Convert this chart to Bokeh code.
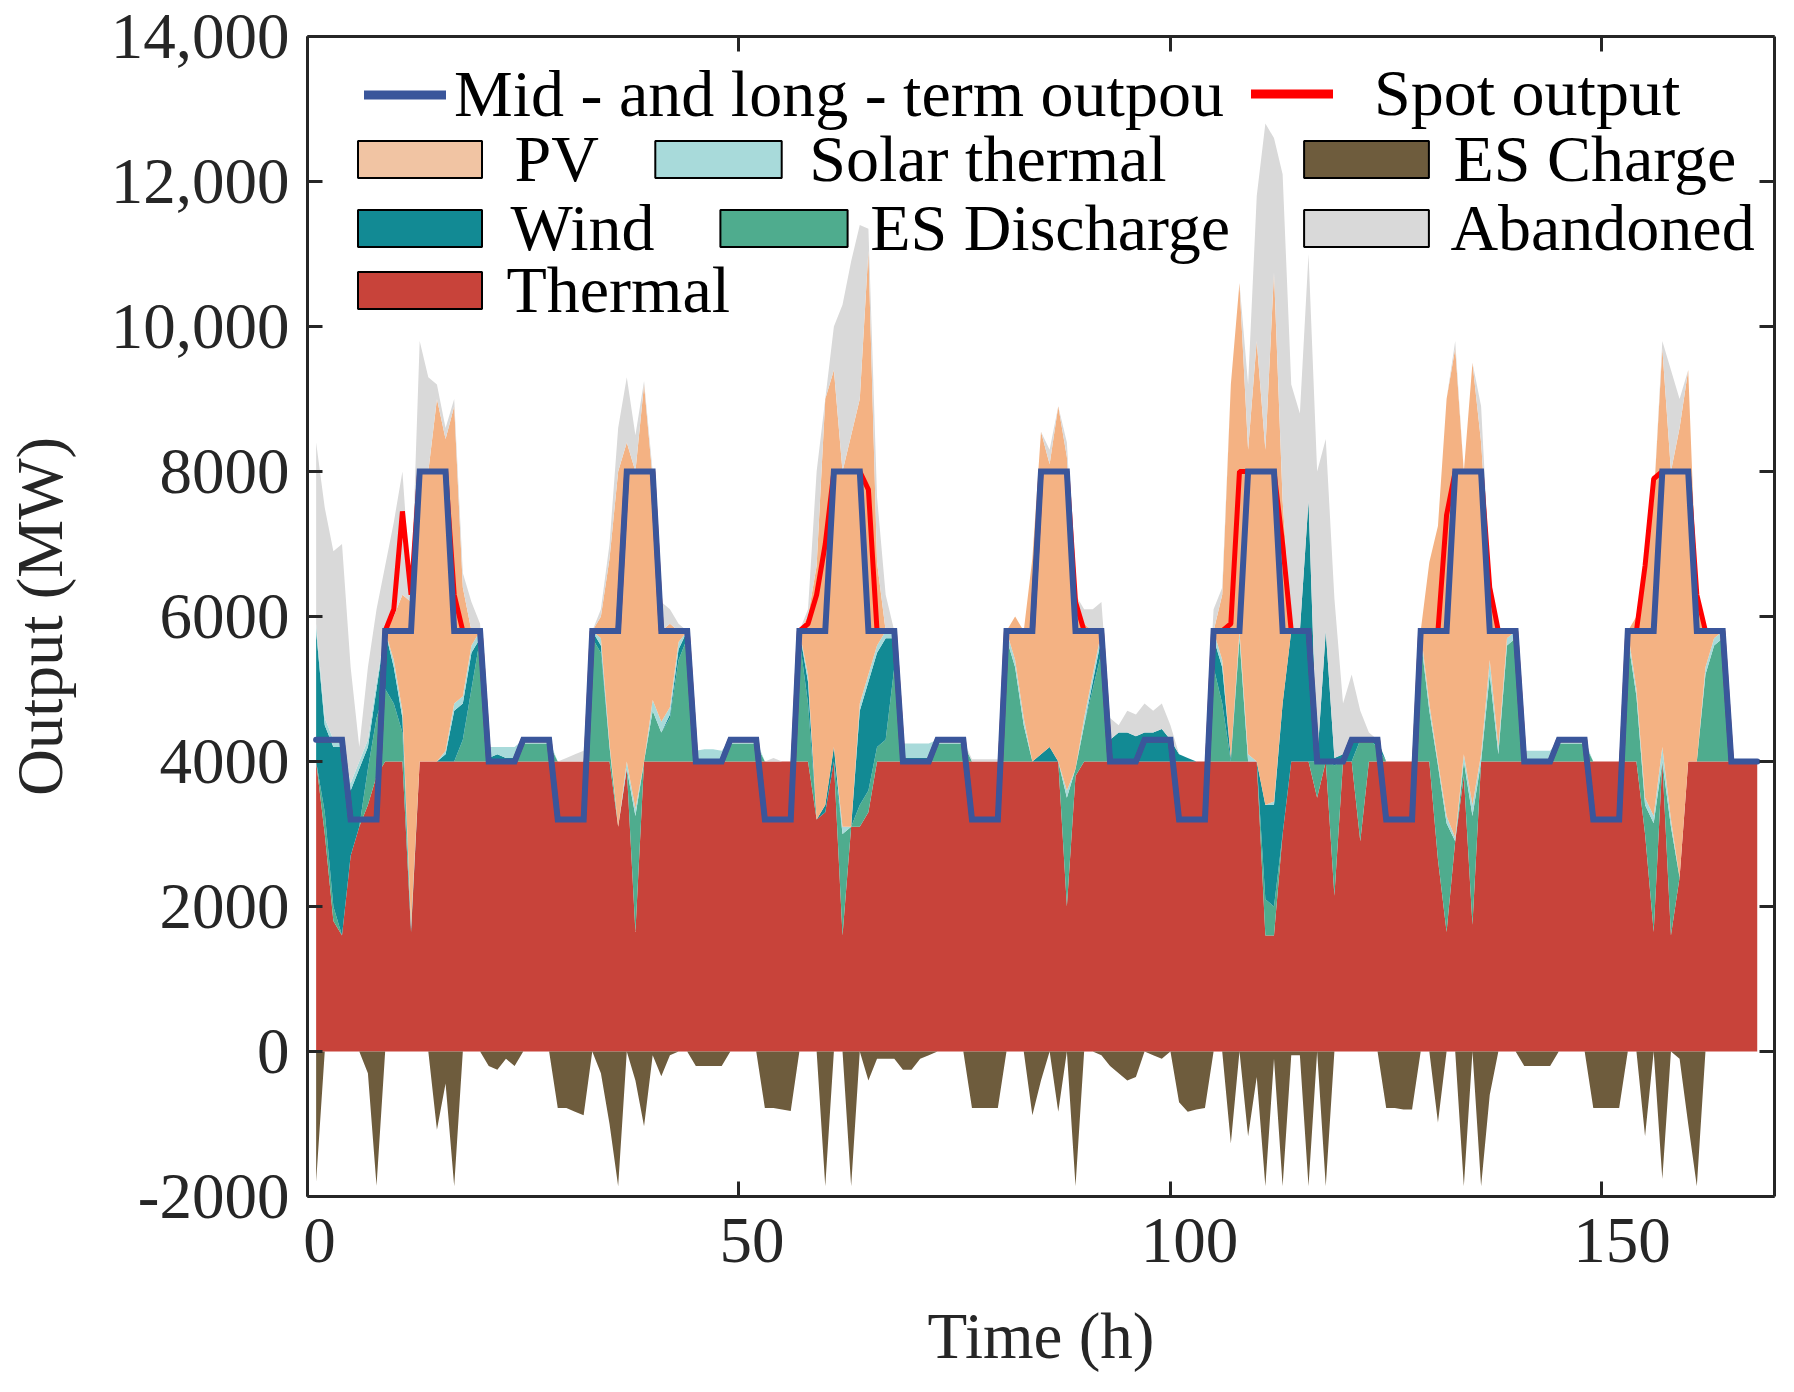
from bokeh.plotting import figure
from bokeh.models import ColumnDataSource, Range1d, LinearAxis, FixedTicker, Legend, LegendItem
from bokeh.embed import file_html
from bokeh.resources import INLINE

# ---------------- data ----------------
hours = list(range(1, 169))

mid_long = [
    4300, 4300, 4300, 4300, 3200, 3200, 3200, 3200, 5800, 5800, 5800, 5800, 8000, 8000, 8000, 8000, 5800, 5800, 5800, 5800, 4000, 4000, 4000, 4000,
    4300, 4300, 4300, 4300, 3200, 3200, 3200, 3200, 5800, 5800, 5800, 5800, 8000, 8000, 8000, 8000, 5800, 5800, 5800, 5800, 4000, 4000, 4000, 4000,
    4300, 4300, 4300, 4300, 3200, 3200, 3200, 3200, 5800, 5800, 5800, 5800, 8000, 8000, 8000, 8000, 5800, 5800, 5800, 5800, 4000, 4000, 4000, 4000,
    4300, 4300, 4300, 4300, 3200, 3200, 3200, 3200, 5800, 5800, 5800, 5800, 8000, 8000, 8000, 8000, 5800, 5800, 5800, 5800, 4000, 4000, 4000, 4000,
    4300, 4300, 4300, 4300, 3200, 3200, 3200, 3200, 5800, 5800, 5800, 5800, 8000, 8000, 8000, 8000, 5800, 5800, 5800, 5800, 4000, 4000, 4000, 4000,
    4300, 4300, 4300, 4300, 3200, 3200, 3200, 3200, 5800, 5800, 5800, 5800, 8000, 8000, 8000, 8000, 5800, 5800, 5800, 5800, 4000, 4000, 4000, 4000,
    4300, 4300, 4300, 4300, 3200, 3200, 3200, 3200, 5800, 5800, 5800, 5800, 8000, 8000, 8000, 8000, 5800, 5800, 5800, 5800, 4000, 4000, 4000, 4000,
]

spot = [
    4300, 4300, 4300, 4300, 3200, 3200, 3200, 3200, 5800, 6100, 7450, 6300, 8000, 8000, 8000, 8000, 6300, 5800, 5800, 5800, 4000, 4000, 4000, 4000,
    4300, 4300, 4300, 4300, 3200, 3200, 3200, 3200, 5800, 5800, 5800, 5800, 8000, 8000, 8000, 8000, 5800, 5800, 5800, 5800, 4000, 4000, 4000, 4000,
    4300, 4300, 4300, 4300, 3200, 3200, 3200, 3200, 5800, 5900, 6300, 7000, 8000, 8000, 8000, 8000, 7750, 5800, 5800, 5800, 4000, 4000, 4000, 4000,
    4300, 4300, 4300, 4300, 3200, 3200, 3200, 3200, 5800, 5800, 5800, 5800, 8000, 8000, 8000, 8000, 6200, 5800, 5800, 5800, 4000, 4000, 4000, 4000,
    4300, 4300, 4300, 4300, 3200, 3200, 3200, 3200, 5800, 5800, 5900, 8000, 8000, 8000, 8000, 8000, 7000, 5800, 5800, 5800, 4000, 4000, 4000, 4000,
    4300, 4300, 4300, 4300, 3200, 3200, 3200, 3200, 5800, 5800, 5800, 7400, 8000, 8000, 8000, 8000, 6400, 5800, 5800, 5800, 4000, 4000, 4000, 4000,
    4300, 4300, 4300, 4300, 3200, 3200, 3200, 3200, 5800, 5800, 6700, 7900, 8000, 8000, 8000, 8000, 6300, 5800, 5800, 5800, 4000, 4000, 4000, 4000,
]

thermal = [
    4000, 3000, 1800, 1600, 2700, 3100, 3400, 3800, 4000, 4000, 4000, 1650, 4000, 4000, 4000, 4000, 4000, 4000, 4000, 4000, 4000, 4000, 4000, 4000,
    4000, 4000, 4000, 4000, 4000, 4000, 4000, 4000, 4000, 4000, 4000, 3100, 3900, 1650, 4000, 4000, 4000, 4000, 4000, 4000, 4000, 4000, 4000, 4000,
    4000, 4000, 4000, 4000, 4000, 4000, 4000, 4000, 4000, 4000, 3200, 3300, 4000, 1600, 3100, 3100, 3300, 4000, 4000, 4000, 4000, 4000, 4000, 4000,
    4000, 4000, 4000, 4000, 4000, 4000, 4000, 4000, 4000, 4000, 4000, 4000, 4000, 4000, 4000, 2000, 3800, 4000, 4000, 4000, 4000, 4000, 4000, 4000,
    4000, 4000, 4000, 4000, 4000, 4000, 4000, 4000, 4000, 4000, 4000, 4000, 4000, 4000, 1600, 1600, 3000, 4000, 4000, 4000, 3500, 4000, 2150, 4000,
    4000, 2900, 4000, 4000, 4000, 4000, 4000, 4000, 4000, 4000, 2650, 1650, 2900, 3800, 1750, 4000, 4000, 4000, 4000, 4000, 4000, 4000, 4000, 4000,
    4000, 4000, 4000, 4000, 4000, 4000, 4000, 4000, 4000, 4000, 3000, 1650, 4000, 1600, 2400, 4000, 4000, 4000, 4000, 4000, 4000, 4000, 4000, 4000,
]

es_discharge = [
    0, 300, 200, 0, 0, 0, 500, 800, 1000, 800, 400, 0, 0, 0, 0, 0, 0, 300, 1000, 1700, 0, 0, 0, 0,
    250, 250, 250, 250, 0, 0, 0, 0, 1700, 1500, 200, 0, 0, 1600, 0, 700, 400, 600, 1400, 1700, 0, 0, 0, 0,
    250, 250, 250, 250, 0, 0, 0, 0, 1700, 800, 0, 0, 0, 1400, 0, 300, 300, 200, 300, 1300, 0, 0, 0, 0,
    250, 250, 250, 250, 0, 0, 0, 0, 1700, 1300, 500, 0, 0, 0, 0, 1500, 100, 500, 1000, 1500, 0, 0, 0, 0,
    0, 0, 0, 0, 0, 0, 0, 0, 1300, 800, 0, 1700, 0, 0, 500, 400, 0, 0, 0, 0, 500, 0, 1800, 0,
    0, 1400, 300, 200, 0, 0, 0, 0, 1700, 700, 1300, 1500, 0, 200, 1500, 0, 1200, 100, 1600, 1700, 0, 0, 0, 0,
    250, 250, 250, 250, 0, 0, 0, 0, 1700, 900, 400, 1500, 0, 1500, 0, 0, 0, 1200, 1600, 1700, 0, 0, 0, 0,
]

wind = [
    1800, 1200, 2200, 2600, 900, 800, 300, 400, 800, 500, 200, 50, 0, 0, 0, 100, 700, 500, 500, 0, 50, 100, 50, 50,
    0, 0, 0, 0, 0, 0, 0, 0, 100, 100, 0, 0, 0, 0, 0, 0, 0, 50, 150, 100, 0, 0, 0, 0,
    0, 0, 0, 0, 0, 0, 0, 0, 100, 300, 0, 100, 200, 0, 0, 1300, 1500, 1300, 1400, 400, 50, 50, 50, 50,
    0, 0, 0, 0, 0, 0, 0, 0, 0, 0, 0, 0, 100, 200, 0, 0, 0, 0, 100, 200, 300, 400, 400, 350,
    400, 400, 450, 300, 100, 50, 0, 0, 400, 500, 50, 0, 0, 0, 1300, 1400, 1800, 1800, 1800, 3600, 0, 1800, 100, 100,
    300, 0, 0, 100, 0, 0, 0, 0, 0, 0, 0, 0, 0, 0, 0, 0, 0, 0, 0, 0, 0, 0, 0, 0,
    0, 0, 0, 0, 0, 0, 0, 0, 0, 0, 0, 0, 0, 0, 0, 0, 0, 0, 0, 0, 0, 0, 0, 0,
]

solar_thermal = [
    100, 100, 100, 100, 100, 100, 100, 100, 0, 100, 100, 50, 0, 0, 0, 50, 100, 100, 100, 100, 150, 100, 150, 150,
    50, 50, 50, 50, 0, 0, 0, 0, 0, 100, 50, 0, 100, 100, 0, 150, 150, 100, 100, 0, 150, 170, 170, 150,
    50, 50, 50, 50, 0, 0, 0, 0, 0, 100, 0, 0, 0, 100, 0, 100, 100, 100, 100, 100, 200, 200, 200, 200,
    50, 50, 50, 50, 0, 0, 0, 0, 100, 100, 100, 0, 0, 0, 0, 100, 0, 100, 100, 100, 0, 0, 0, 0,
    0, 0, 0, 0, 0, 0, 0, 0, 100, 100, 0, 100, 100, 0, 0, 50, 0, 0, 0, 0, 0, 0, 0, 0,
    0, 0, 0, 0, 0, 0, 0, 0, 100, 100, 50, 100, 50, 100, 150, 100, 200, 100, 100, 100, 150, 150, 150, 150,
    50, 50, 50, 50, 0, 0, 0, 0, 100, 100, 100, 100, 200, 100, 0, 0, 0, 100, 100, 100, 0, 0, 0, 0,
]

pv = [
    0, 0, 0, 0, 0, 0, 0, 0, 0, 600, 1600, 4450, 4000, 4000, 5000, 4300, 4100, 1500, 200, 0, 0, 0, 0, 0,
    0, 0, 0, 0, 0, 0, 0, 0, 0, 300, 2550, 4900, 4400, 4650, 5200, 3050, 1250, 1150, 150, 0, 0, 0, 0, 0,
    0, 0, 0, 0, 0, 0, 0, 0, 0, 800, 3500, 5600, 5200, 4900, 5400, 4200, 5850, 1150, 0, 0, 0, 0, 0, 0,
    0, 0, 0, 0, 0, 0, 0, 0, 0, 600, 1200, 2800, 4450, 3900, 4900, 4600, 2400, 1300, 600, 0, 0, 0, 0, 0,
    0, 0, 0, 0, 0, 0, 0, 0, 0, 900, 5150, 4800, 4200, 5800, 4900, 7300, 2800, 0, 0, 0, 0, 0, 0, 0,
    0, 0, 0, 0, 0, 0, 0, 0, 0, 1950, 3250, 5750, 6750, 3900, 6100, 4300, 1200, 1600, 100, 0, 0, 0, 0, 0,
    0, 0, 0, 0, 0, 0, 0, 0, 0, 1000, 3350, 4350, 5500, 4800, 6200, 5400, 2300, 500, 100, 0, 0, 0, 0, 0,
]

abandoned = [
    2500, 2900, 2600, 2700, 1600, 200, 1000, 1000, 900, 1300, 1700, 100, 1800, 1300, 200, 150, 100, 200, 400, 100, 0, 0, 0, 0,
    0, 0, 0, 0, 0, 50, 100, 150, 0, 100, 200, 600, 900, 500, 50, 100, 400, 200, 100, 0, 0, 0, 0, 0,
    0, 0, 0, 0, 0, 50, 0, 0, 0, 100, 1300, 0, 600, 2300, 2400, 2400, 300, 900, 500, 0, 0, 0, 0, 0,
    0, 0, 0, 0, 30, 30, 30, 30, 0, 0, 0, 0, 0, 200, 0, 200, 0, 200, 300, 400, 300, 100, 300, 300,
    400, 300, 350, 200, 0, 0, 0, 0, 300, 100, 0, 0, 900, 2000, 4500, 1850, 4500, 3400, 3000, 3400, 4000, 2650, 2200, 700,
    900, 400, 100, 0, 0, 0, 0, 0, 0, 0, 0, 0, 100, 0, 0, 500, 0, 0, 0, 0, 0, 0, 0, 0,
    0, 0, 0, 0, 0, 0, 0, 0, 0, 0, 0, 0, 100, 1400, 400, 0, 0, 0, 0, 0, 0, 0, 0, 0,
]

es_charge = [
    -1800, 0, 0, 0, 0, 0, -300, -1850, 0, 0, 0, 0, 0, 0, -1080, -440, -1860, 0, 0, 0, -200, -250, -100, -200,
    0, 0, 0, 0, -780, -780, -830, -880, 0, -300, -1000, -1860, 0, -400, -1030, -50, -340, -50, 0, 0, -200, -200, -200, -200,
    0, 0, 0, 0, -780, -780, -800, -820, 0, 0, 0, -1860, 0, 0, -1860, 0, -400, -100, -100, -100, -250, -250, -100, -50,
    0, 0, 0, 0, -780, -780, -780, -780, 0, 0, 0, -880, -400, 0, -830, 0, -1860, 0, 0, -50, -200, -300, -400, -350,
    0, -50, -100, 0, -700, -830, -800, -780, 0, 0, -1270, 0, -1170, -350, -1860, -100, -1860, -50, -50, -1860, 0, -1860, 0, 0,
    0, 0, 0, 0, -780, -780, -800, -800, 0, 0, -980, 0, 0, -1860, 0, -1860, -600, 0, 0, 0, -200, -200, -200, -200,
    0, 0, 0, 0, -780, -780, -780, -780, 0, 0, -1170, 0, -1760, 0, -100, -1000, -1860, 0, 0, 0, 0, 0, 0, 0,
]

xtick_values = [0, 50, 100, 150]
xtick_labels = ["0", "50", "100", "150"]
ytick_values = [-2000, 0, 2000, 4000, 6000, 8000, 10000, 12000, 14000]
ytick_labels = ["-2000", "0", "2000", "4000", "6000", "8000", "10,000", "12,000", "14,000"]

# ---------------- styling ----------------
FONT = "Liberation Serif"
AX = "#262626"
C_THERMAL = "#C8433A"
C_DIS = "#4FAC8E"
C_WIND = "#128A94"
C_SOLAR = "#A8DADA"
C_PV = "#F4B283"
C_PV_KEY = "#F1C4A3"
C_AB = "#D9D9D9"
C_CH = "#6E5C3D"
C_MID = "#3A569B"
C_SPOT = "#FF0000"

src = ColumnDataSource(dict(hours=hours, thermal=thermal, es_discharge=es_discharge, wind=wind,
                            solar_thermal=solar_thermal, pv=pv, abandoned=abandoned,
                            es_charge=es_charge, mid_long=mid_long, spot=spot))

FRAME_W, FRAME_H = 1467, 1160
BORDER_L, BORDER_T = 307, 36
X0, X1 = 0, 170
PX_PER_H = FRAME_W / (X1 - X0)

p = figure(frame_width=FRAME_W, frame_height=FRAME_H,
           x_range=Range1d(X0, X1), y_range=Range1d(-2000, 14000),
           output_backend="svg", toolbar_location=None,
           min_border_left=BORDER_L, min_border_right=20, min_border_top=BORDER_T, min_border_bottom=196)
p.xgrid.visible = False
p.ygrid.visible = False
p.outline_line_color = None

areas = p.varea_stack(stackers=["thermal", "es_discharge", "wind", "solar_thermal", "pv", "abandoned"],
                      x="hours", color=[C_THERMAL, C_DIS, C_WIND, C_SOLAR, C_PV, C_AB], source=src)
charge = p.varea(x="hours", y1=0, y2="es_charge", source=src, fill_color=C_CH)
spot_r = p.line("hours", "spot", source=src, line_color=C_SPOT, line_width=5, line_cap="round")
mid_r = p.line("hours", "mid_long", source=src, line_color=C_MID, line_width=6, line_cap="round",
               line_join="miter")

# axes
def style_axis(ax, show_labels):
    ax.axis_line_color = AX
    ax.axis_line_width = 3
    ax.major_tick_line_color = AX
    ax.major_tick_line_width = 3
    ax.major_tick_in = 15
    ax.major_tick_out = 0
    ax.minor_tick_line_color = None
    ax.major_label_text_font = FONT
    ax.major_label_text_color = AX
    ax.major_label_text_font_size = "65px" if show_labels else "1px"
    ax.axis_label_text_font = FONT
    ax.axis_label_text_font_size = "65px"
    ax.axis_label_text_font_style = "normal"
    ax.axis_label_text_color = AX

# bottom axis: line and tick marks
p.xaxis.ticker = FixedTicker(ticks=xtick_values)
p.xaxis.major_label_overrides = {v: "" for v in xtick_values}
style_axis(p.xaxis[0], False)
p.xaxis.major_label_standoff = 0

# bottom labels sit slightly right of their ticks in the reference
LABEL_SHIFT_PX = [12, 13, 19, 20]
xlabel_pos = [round(v + s / PX_PER_H, 2) for v, s in zip(xtick_values, LABEL_SHIFT_PX)]
xlab_ax = LinearAxis(ticker=FixedTicker(ticks=xlabel_pos),
                     major_label_overrides={pos: lab for pos, lab in zip(xlabel_pos, xtick_labels)})
style_axis(xlab_ax, True)
xlab_ax.axis_line_color = None
xlab_ax.major_tick_line_color = None
xlab_ax.major_tick_in = 0
xlab_ax.major_label_standoff = 22
xlab_ax.axis_label = "Time (h)"
xlab_ax.axis_label_standoff = 35
p.add_layout(xlab_ax, "below")

p.yaxis.ticker = FixedTicker(ticks=ytick_values)
p.yaxis.major_label_overrides = {v: s for v, s in zip(ytick_values, ytick_labels)}
p.yaxis.axis_label = "Output (MW)"
style_axis(p.yaxis[0], True)
p.yaxis.major_label_standoff = 18
p.yaxis.axis_label_standoff = 32

top_ax = LinearAxis(ticker=FixedTicker(ticks=xtick_values),
                    major_label_overrides={v: "" for v in xtick_values})
style_axis(top_ax, False)
top_ax.major_label_standoff = 0
p.add_layout(top_ax, "above")
right_ax = LinearAxis(ticker=FixedTicker(ticks=ytick_values),
                      major_label_overrides={v: "" for v in ytick_values})
style_axis(right_ax, False)
right_ax.major_label_standoff = 0
p.add_layout(right_ax, "right")

# legend keys: hidden renderers of each series give the reference's heavier line keys
# and outlined area swatches
def key_swatch(field, color):
    return p.vbar(x="hours", top=field, width=0.8, source=src, fill_color=color,
                  line_color="black", line_width=2, visible=False)

def key_line(field, color):
    return p.line("hours", field, source=src, line_color=color, line_width=9,
                  line_cap="round", visible=False)

ROW_H = 76
FIX = 4
INSET = 0.8  # Bokeh draws area legend swatches at 80% of the glyph box

def place(renderer, label, left, center, gw, gh, standoff):
    d = center - BORDER_T
    leg = Legend(items=[LegendItem(label=label, renderers=[renderer])],
                 location=(left - BORDER_L, FRAME_H - d - ROW_H / 2 + FIX),
                 orientation="vertical", padding=0, margin=0, spacing=0,
                 glyph_width=int(round(gw)), glyph_height=int(round(gh)),
                 label_standoff=int(round(standoff)),
                 label_text_font=FONT, label_text_font_size="66px", label_text_color="black",
                 border_line_color=None, background_fill_alpha=0, inactive_fill_alpha=0)
    p.add_layout(leg)

def line_key(renderer, label, left, center, length, standoff):
    place(renderer, label, left, center, length, 37, standoff)

def box_key(renderer, label, left, center, w, h, standoff):
    gw, gh = w / INSET, h / INSET
    pad = (gw - w) / 2
    place(renderer, label, left - pad, center, gw, gh, standoff - pad)

line_key(key_line("mid_long", C_MID), "Mid - and long - term outpou", 364, 98, 82, 8)
line_key(key_line("spot", C_SPOT), "Spot output", 1251, 97, 82, 41)
box_key(key_swatch("pv", C_PV_KEY), "PV", 357, 163, 124, 37, 33)
box_key(key_swatch("solar_thermal", C_SOLAR), "Solar thermal", 655, 163, 126, 37, 28)
box_key(key_swatch("es_charge", C_CH), "ES Charge", 1304, 163, 125, 37, 25)
box_key(key_swatch("wind", C_WIND), "Wind", 357, 232, 124, 37, 30)
box_key(key_swatch("es_discharge", C_DIS), "ES Discharge", 720, 232, 127, 37, 23)
box_key(key_swatch("abandoned", C_AB), "Abandoned", 1304, 232, 125, 37, 22)
box_key(key_swatch("thermal", C_THERMAL), "Thermal", 357, 294, 124, 37, 25)

open("out.html", "w").write(file_html(p, INLINE))
